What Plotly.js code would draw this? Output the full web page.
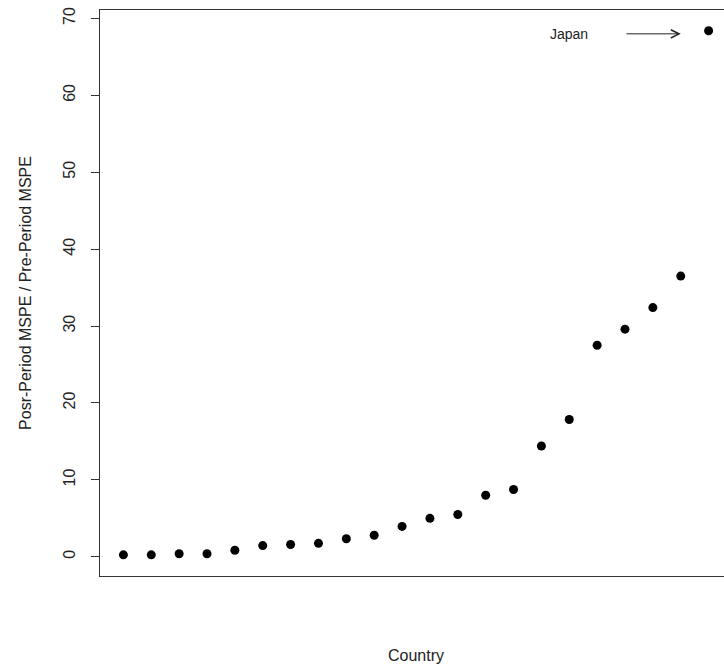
<!DOCTYPE html>
<html>
<head>
<meta charset="utf-8">
<script src="https://cdn.plot.ly/plotly-3.0.1.min.js"></script>
<style>
html, body { margin: 0; padding: 0; overflow: hidden; background: #fff; }
#chart { width: 760px; height: 667px; }
</style>
</head>
<body>
<div id="chart"></div>
<script>
// Country index (sorted by ratio) and post/pre MSPE ratio
var countryIndex = [1, 2, 3, 4, 5, 6, 7, 8, 9, 10, 11, 12, 13, 14, 15, 16, 17, 18, 19, 20, 21, 22];
var mspeRatio = [0.25, 0.25, 0.4, 0.4, 0.85, 1.45, 1.6, 1.75, 2.35, 2.8, 3.95, 5.0, 5.5, 8.0, 8.75, 14.4, 17.85, 27.5, 29.6, 32.4, 36.5, 68.4];
var yTicks = [0, 10, 20, 30, 40, 50, 60, 70];
var labelText = "Japan";
var labelX = 17, labelY = 68;
var arrowFromX = 19, arrowToX = 21, arrowY = 68;

var trace = {
  x: countryIndex,
  y: mspeRatio,
  type: 'scatter',
  mode: 'markers',
  marker: { color: '#000', size: 9 },
  hoverinfo: 'skip'
};

var layout = {
  width: 760,
  height: 667,
  margin: { l: 100, r: 28, t: 10, b: 91 },
  paper_bgcolor: '#fff',
  plot_bgcolor: '#fff',
  showlegend: false,
  font: { family: 'Liberation Sans, Arial, sans-serif', color: '#222' },
  xaxis: {
    range: [0.16, 22.84],
    showgrid: false,
    zeroline: false,
    showticklabels: false,
    ticks: '',
    showline: true,
    mirror: true,
    linecolor: '#333',
    linewidth: 1,
    title: { text: 'Country', font: { size: 16, color: '#222' }, standoff: 73 },
    automargin: false
  },
  yaxis: {
    range: [-2.5, 71.1],
    showgrid: false,
    zeroline: false,
    tickvals: yTicks,
    ticktext: yTicks.map(String),
    ticks: 'outside',
    ticklen: 8,
    tickcolor: '#333',
    tickangle: -90,
    ticklabelstandoff: 10,
    tickfont: { size: 16, color: '#222' },
    showline: true,
    mirror: true,
    linecolor: '#333',
    linewidth: 1,
    title: { text: 'Posr-Period MSPE / Pre-Period MSPE', font: { size: 16, color: '#222' }, standoff: 24 },
    automargin: false
  },
  annotations: [
    {
      x: labelX, y: labelY, xref: 'x', yref: 'y',
      text: labelText, showarrow: false,
      font: { size: 14, color: '#222' }
    },
    {
      x: arrowToX, y: arrowY, xref: 'x', yref: 'y',
      ax: arrowFromX, ay: arrowY, axref: 'x', ayref: 'y',
      text: '', showarrow: true,
      arrowhead: 5, arrowsize: 1.6, arrowwidth: 1, arrowcolor: '#222'
    }
  ]
};

Plotly.newPlot('chart', [trace], layout, { staticPlot: true, displayModeBar: false });
</script>
</body>
</html>
